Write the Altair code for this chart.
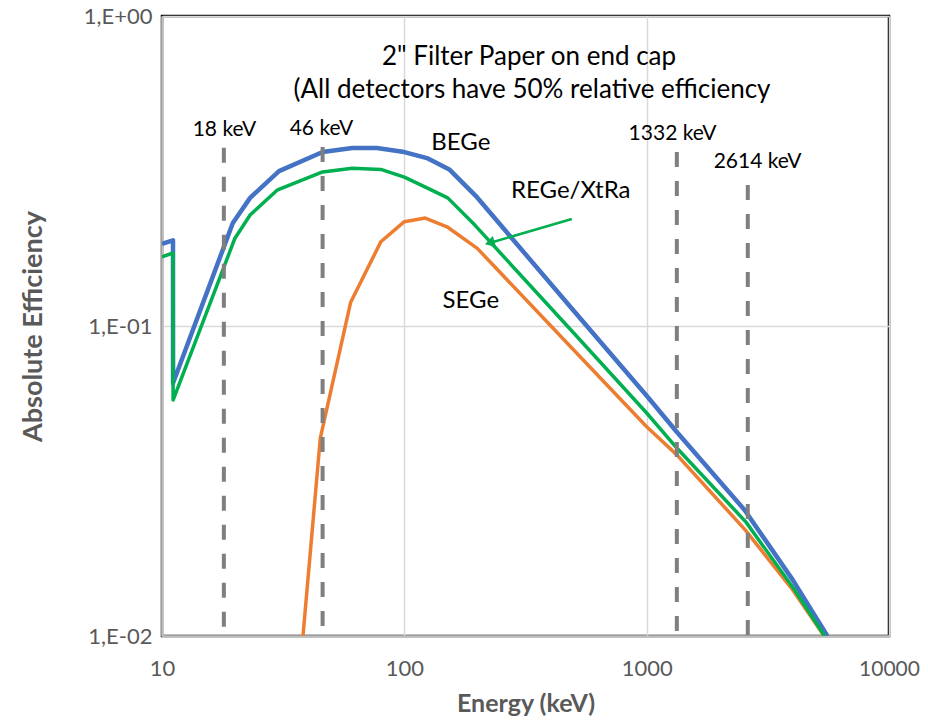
import altair as alt
import pandas as pd

# ---- data ----
beg_e = [10, 11.1, 11.11, 19.6, 23.1, 30.4, 46, 61, 77, 100, 124, 154, 197, 500, 1000, 1332, 2535, 4000, 5570]
beg_v = [0.184, 0.189, 0.0655, 0.215, 0.259, 0.316, 0.364, 0.375, 0.375, 0.364, 0.348, 0.319, 0.263,
         0.112, 0.0596, 0.0455, 0.0255, 0.0152, 0.0100]

reg_e = [10, 11.1, 11.11, 20, 23.1, 30, 46, 61, 80, 100, 124, 151, 195, 500, 1000, 1332, 2570, 4000, 5420]
reg_v = [0.167, 0.172, 0.0577, 0.192, 0.228, 0.275, 0.314, 0.323, 0.320, 0.302, 0.279, 0.259, 0.212,
         0.0949, 0.0524, 0.0404, 0.0233, 0.0144, 0.0100]

seg_e = [35, 45, 60, 80, 100, 122, 150, 200, 500, 1000, 1332, 2550, 4000, 5400]
seg_v = [0.0046, 0.0435, 0.119, 0.187, 0.217, 0.223, 0.209, 0.178, 0.0837, 0.0473, 0.0384, 0.0220, 0.0141, 0.0100]

marker_e = [18, 46, 1332, 2614]
marker_top = [0.376, 0.378, 0.364, 0.285]
marker_bottom = [0.01, 0.01, 0.01, 0.01]
marker_text = ["18 keV", "46 keV", "1332 keV", "2614 keV"]
marker_text_e = [18.1, 45.5, 1279, 2869]
marker_text_v = [0.429, 0.432, 0.416, 0.338]

curve_names = ["BEGe", "REGe/XtRa", "SEGe"]
curve_text_e = [171, 486, 188]
curve_text_v = [0.389, 0.272, 0.1205]

arrow_start = (491, 0.2214)
arrow_end = (225, 0.1853)

title_lines = ['2" Filter Paper on end cap', '(All detectors have 50% relative efficiency']

FONT = "Lato"
BLUE, ORANGE, GREEN, GREY = "#4472C4", "#ED7D31", "#00B050", "#7F7F7F"

xscale = alt.Scale(type="log", domain=[10, 10000])
yscale = alt.Scale(type="log", domain=[0.01, 1])

def series_df(e, v):
    return pd.DataFrame({"e": e, "v": v, "i": list(range(len(e)))})

xax = alt.Axis(values=[10, 100, 1000, 10000], format="d", title="Energy (keV)",
               labelFlush=False, labelOverlap=False, ticks=False, labelPadding=22,
               labelFontSize={"condition": {"test": "datum.value >= 10000", "value": 21}, "value": 22},
               titlePadding=12, titleFontSize=25)
yax = alt.Axis(values=[0.01, 0.1, 1], title="Absolute Efficiency", ticks=False,
               labelExpr="datum.value >= 0.99 ? '1,E+00' : (datum.value >= 0.099 ? '1,E-01' : '1,E-02')",
               labelPadding=10, labelFlush=False, labelOverlap=False, titlePadding=36)

def line(e, v, color, width):
    return alt.Chart(series_df(e, v)).mark_line(color=color, strokeWidth=width, clip=True,
                                                 strokeJoin="round").encode(
        x=alt.X("e:Q", scale=xscale, axis=xax),
        y=alt.Y("v:Q", scale=yscale, axis=yax),
        order="i:Q",
    )

blue = line(beg_e, beg_v, BLUE, 4.5)
orange = line(seg_e, seg_v, ORANGE, 3.5)
green = line(reg_e, reg_v, GREEN, 3.5)

mk = pd.DataFrame({"e": marker_e, "top": marker_top, "bot": marker_bottom,
                   "t": marker_text, "te": marker_text_e, "tv": marker_text_v})
rules = alt.Chart(mk).mark_rule(color=GREY, strokeWidth=4, strokeDash=[15, 14]).encode(
    x=alt.X("e:Q", scale=xscale), y=alt.Y("top:Q", scale=yscale), y2="bot:Q")
rule_text = alt.Chart(mk).mark_text(font=FONT, fontSize=21, color="black", baseline="middle").encode(
    x=alt.X("te:Q", scale=xscale), y=alt.Y("tv:Q", scale=yscale), text="t:N")

cv = pd.DataFrame({"t": curve_names, "e": curve_text_e, "v": curve_text_v})
curve_text = alt.Chart(cv).mark_text(font=FONT, fontSize=24, color="black", baseline="middle").encode(
    x=alt.X("e:Q", scale=xscale), y=alt.Y("v:Q", scale=yscale), text="t:N")

ar = pd.DataFrame({"e": [arrow_start[0]], "v": [arrow_start[1]],
                   "e2": [arrow_end[0]], "v2": [arrow_end[1]]})
arrow = alt.Chart(ar).mark_rule(color=GREEN, strokeWidth=2.5).encode(
    x=alt.X("e:Q", scale=xscale), y=alt.Y("v:Q", scale=yscale), x2="e2:Q", y2="v2:Q")
head = alt.Chart(ar).mark_point(shape="triangle-up", filled=True, color=GREEN, size=130,
                                angle=253.7, opacity=1).encode(
    x=alt.X("e2:Q", scale=xscale), y=alt.Y("v2:Q", scale=yscale))

t1 = alt.Chart(pd.DataFrame({"t": [title_lines[0]]})).mark_text(
    font=FONT, fontSize=26, color="black", baseline="middle").encode(
    x=alt.value(367), y=alt.value(41), text="t:N")
t2 = alt.Chart(pd.DataFrame({"t": [title_lines[1]]})).mark_text(
    font=FONT, fontSize=26, color="black", baseline="middle").encode(
    x=alt.value(370), y=alt.value(74), text="t:N")

chart = alt.layer(blue, orange, green, rules, rule_text, curve_text, arrow, head, t1, t2).properties(
    width=727, height=620,
    padding={"left": 154, "top": 8, "right": 31, "bottom": 80},
    autosize=alt.AutoSizeParams(type="none"),
).configure_view(
    stroke="black", strokeWidth=2.5
).configure_axis(
    labelFont=FONT, labelFontSize=22, labelColor="#595959",
    titleFont=FONT, titleFontSize=27, titleFontWeight="bold", titleColor="#595959",
    domainColor="#BFBFBF", domainWidth=2.5,
    gridColor="#D9D9D9", gridWidth=1.5,
)

chart.save("out.html", embed_options={"renderer": "svg", "actions": False})
